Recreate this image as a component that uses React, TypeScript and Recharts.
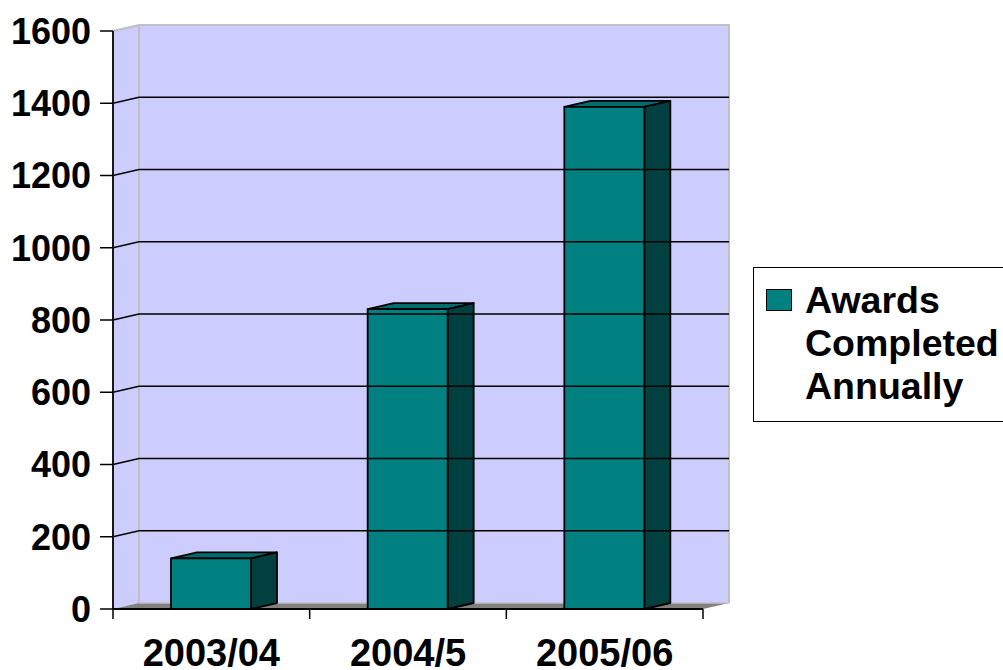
import React from "react";
import { BarChart, Bar, XAxis, YAxis, ReferenceLine, ReferenceArea, Legend } from "recharts";

const categories = ["2003/04", "2004/5", "2005/06"];
const awards = [140, 830, 1390];
const yTicks = [0, 200, 400, 600, 800, 1000, 1200, 1400, 1600];
const seriesName = "Awards Completed Annually";

const data = categories.map((c, i) => ({ year: c, awards: awards[i] }));

// depth of the 3d look
const DX = 26;
const DY = 6;
const FONT = '"Liberation Sans", Arial, sans-serif';
const WALL = "#CCCCFF";
const EDGE = "#C0C0C0";

function Walls(props: any) {
  const { x, y, width, height } = props;
  const b = y + height;
  const r = x + width;
  return (
    <g>
      <polygon points={`${x},${y} ${x + DX},${y - DY} ${x + DX},${b - DY} ${x},${b}`} fill={WALL} />
      <rect x={x + DX} y={y - DY} width={width} height={height} fill={WALL} />
      <polyline points={`${x},${y} ${x + DX},${y - DY} ${r + DX},${y - DY} ${r + DX},${b - DY}`} fill="none" stroke={EDGE} strokeWidth={2} />
      <line x1={x + DX} y1={y - DY} x2={x + DX} y2={b - DY} stroke={EDGE} strokeWidth={2} />
      <polygon points={`${x},${b} ${x + DX},${b - DY} ${r + DX},${b - DY} ${r},${b}`} fill="#808080" />
      <line x1={x + DX} y1={b - DY} x2={r + DX} y2={b - DY} stroke={EDGE} strokeWidth={1.5} />
    </g>
  );
}

function GridLine(props: any) {
  const { x1, x2, y1 } = props;
  if (x1 === undefined || y1 === undefined) return <g />;
  const a = Math.min(x1, x2);
  const c = Math.max(x1, x2);
  return (
    <polyline
      points={`${a},${y1} ${a + DX},${y1 - DY} ${c + DX},${y1 - DY}`}
      fill="none"
      stroke="#000"
      strokeWidth={1.5}
    />
  );
}

function Box3D(props: any) {
  const { x, y, width, height } = props;
  if (!width || height === undefined) return <g />;
  const r = x + width;
  const b = y + height;
  return (
    <g stroke="#000" strokeWidth={1.8} strokeLinejoin="round">
      <polygon points={`${x},${y} ${x + DX},${y - DY} ${r + DX},${y - DY} ${r},${y}`} fill="#006C6C" />
      <polygon points={`${r},${y} ${r + DX},${y - DY} ${r + DX},${b - DY} ${r},${b}`} fill="#004040" />
      <rect x={x} y={y} width={width} height={height} fill="#008080" />
    </g>
  );
}

function XTick(props: any) {
  const { x, y, payload, index } = props;
  const half = payload && payload.offset ? payload.offset : 98.33;
  const last = index === categories.length - 1;
  return (
    <g>
      <line x1={x - half} y1={y} x2={x - half} y2={y + 10} stroke="#000" strokeWidth={1.5} />
      {last && <line x1={x + half} y1={y} x2={x + half} y2={y + 10} stroke="#000" strokeWidth={1.5} />}
      <text x={x} y={y + 57} textAnchor="middle" fontFamily={FONT} fontWeight="bold" fontSize={38} fill="#000">
        {payload.value}
      </text>
    </g>
  );
}

function LegendBox(props: any) {
  const item = props.payload && props.payload[0];
  const words = (item ? item.value : seriesName).split(" ");
  return (
    <div
      style={{
        position: "relative",
        border: "1.5px solid #000",
        borderRight: "none",
        background: "#fff",
        padding: "11px 0 13px 51px",
        fontFamily: FONT,
        fontWeight: "bold",
        fontSize: 37.5,
        lineHeight: "43px",
        color: "#000",
        width: 260,
        boxSizing: "border-box",
      }}
    >
      <span
        style={{
          position: "absolute",
          left: 12,
          top: 21,
          width: 24,
          height: 20,
          background: "#008080",
          border: "1.5px solid #000",
        }}
      />
      {words.map((w: string) => (
        <div key={w}>{w}</div>
      ))}
    </div>
  );
}

export default function App() {
  return (
    <div style={{ position: "absolute", left: 0, top: 0, width: 1003, height: 670, overflow: "hidden", background: "#fff" }}>
      <BarChart
        width={1003}
        height={670}
        data={data}
        margin={{ top: 31, right: 300, bottom: 0, left: 0 }}
        barSize={80}
      >
        <ReferenceArea y1={0} y2={1600} shape={<Walls />} ifOverflow="visible" />
        {yTicks.slice(1, -1).map((v) => (
          <ReferenceLine key={v} y={v} shape={<GridLine />} ifOverflow="visible" />
        ))}
        <XAxis
          dataKey="year"
          height={61}
          tickSize={0}
          tickMargin={0}
          tickLine={false}
          axisLine={{ stroke: "#000", strokeWidth: 1.8 }}
          tick={<XTick />}
          interval={0}
        />
        <YAxis
          width={113}
          domain={[0, 1600]}
          ticks={yTicks}
          interval={0}
          tickSize={13}
          tickMargin={9}
          axisLine={{ stroke: "#000", strokeWidth: 1.8 }}
          tickLine={{ stroke: "#000", strokeWidth: 1.5 }}
          tick={{ fontFamily: FONT, fontWeight: "bold", fontSize: 36, fill: "#000" }}
        />
        <Legend
          layout="vertical"
          align="center"
          verticalAlign="middle"
          wrapperStyle={{ left: 753, top: 267, width: 260 }}
          content={<LegendBox />}
        />
        <Bar dataKey="awards" name={seriesName} shape={<Box3D />} isAnimationActive={false} />
      </BarChart>
    </div>
  );
}
